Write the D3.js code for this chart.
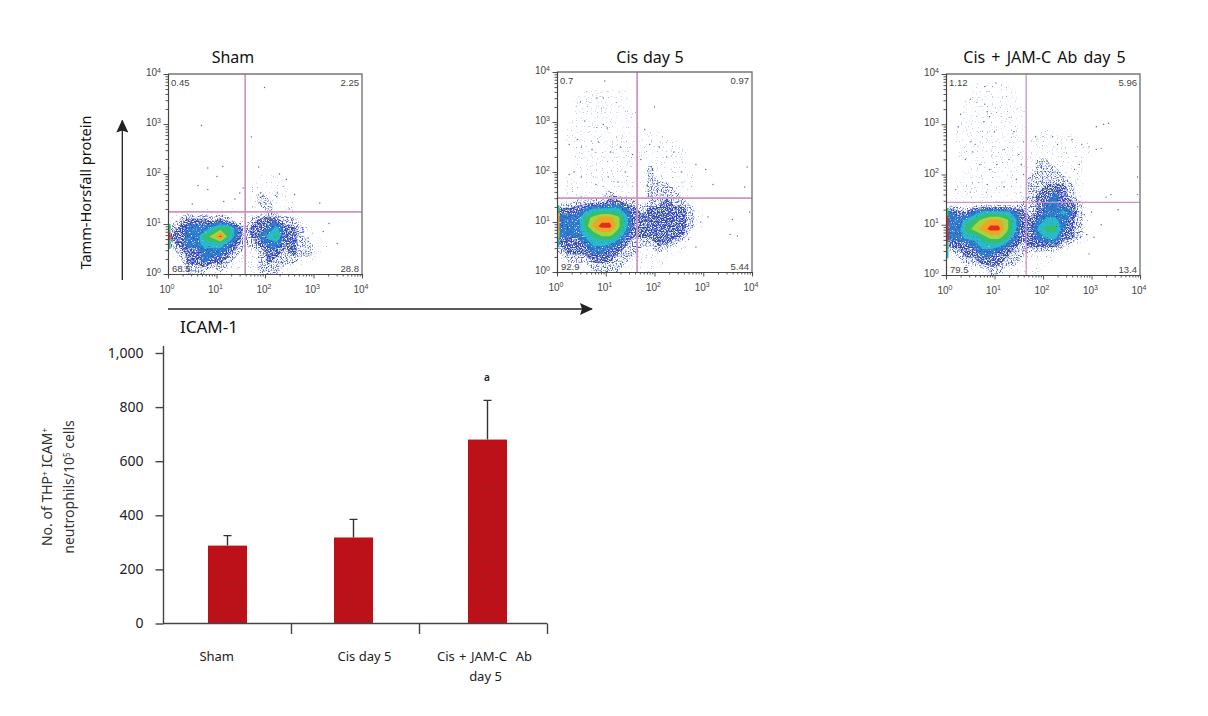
<!DOCTYPE html>
<html><head><meta charset="utf-8">
<style>html,body{margin:0;background:#fff}svg{display:block}</style>
<script src="https://cdn.jsdelivr.net/npm/d3@7"></script></head>
<body><svg id="c" width="1208" height="716"></svg>
<script>
// ---- Data ----
const barCategories = ["Sham", "Cis day 5", "Cis + JAM-C  Ab"];
const barValues = [288, 318, 680];
const barErrorTops = [325, 385, 825];
const barTicks = [0, 200, 400, 600, 800, 1000];

const panelTitles = ["Sham", "Cis day 5", "Cis + JAM-C Ab day 5"];
const gateX = [39, 44, 45];
const gateY = [17.4, 30, 28];
const quadrantLabels = [
  ["0.45", "2.25", "68.5", "28.8"],
  ["0.7", "0.97", "92.9", "5.44"],
  ["1.12", "5.96", "79.5", "13.4"]
];
// density level (0-9) on a 24x24 grid of 1/6-decade cells, top row first
const densitySham = [
"000000000000000000000000","000000000000000000000000","000000000000000000000000","000000000000000000000000",
"000000000000000000000000","000000000000000000000000","000000000000000000000000","000000000000000000000000",
"000000000000000000000000","000000000000000000000000","000000000000000000000000","000000000000000000000000",
"000000000001110000000000","000000000011111000000000","000000000012121000000000","000000000012211100000000",
"011011111011211100000000","123332321123332210000000","234445664233453321000000","334467964234563321100000",
"234455543223443322110000","123344432112332322100000","013343321112322211000000","012221211012221100000000"];
const densityCis = [
"000000000000000000000000","000000000000000000000000","000111111000000000000000","001111111000000000000000",
"001111111100000000000000","001111111100000000000000","011111111100000000000000","011111111111100000000000",
"011111111111111000000000","001111111111111100000000","001111111111111100000000","001111111112111100000000",
"011111111112111110000000","011111111112221110000000","011111211112222100000000","112222332212232210000000",
"333455554323333321000000","444678875333333321000000","444689975333333321000000","444567764333333310000000",
"333455543222332100000000","233344332211211100000000","122233322111110000000000","011122221111100000000000"];
const densityJam = [
"000000000000000000000000","000111110000000000000000","000111111000000000000000","001111111000000000000000",
"001111111100000000000000","001111111100000000000000","011111111100100000000000","011111111111111100000000",
"011111111111111111000000","011111111111111111000000","001111111112211110000000","001111111112221110000000",
"011111111122222110000000","011111111122333210000000","011111111123343210000000","110111111223443321000000",
"433455554323445421000000","445678875334554321000000","446789975335664321000000","445567764334553321000000",
"333455543233332100000000","123344332211110000000000","012233322101100000000000","001112211111000000000000"];
const densityGrids = [densitySham, densityCis, densityJam];
// density of events piled on the left axis, same rows
const edgeSham = [0,0,0,0,0,0,0,0,0,0,0,0,0,0,0,0,0,0,6,9,6,0,0,0];
const edgeCis  = [0,0,0,0,0,0,0,0,0,0,0,0,0,0,0,0,6,8,8,7,5,0,0,0];
const edgeJam  = [0,0,0,0,0,0,0,0,0,0,0,0,0,0,0,0,6,9,9,9,6,5,0,0];
const edgeSets = [edgeSham, edgeCis, edgeJam];
// isolated events, [log10 x, log10 y]
const eventsSham = [[1.99,3.73],[.69,2.97],[1.72,2.74],[.82,2.12],[1.13,2.15],[1.01,1.95],[.62,1.77],[.82,1.69],[1.48,1.62],[2.3,2],[1.87,2.14],[2.44,1.89],[2.61,1.59],[3.13,1.42],[3.32,1.01],[3.49,.61],[3.2,.85],[2.89,.72],[2.78,.89],[.02,2.12],[1.55,1.72],[1.38,1.5],[.5,1.4],[1.15,1.45],[2.5,1.3]];
const eventsCis = [[.98,3.82],[.82,3.48],[.95,3.48],[.48,3.4],[.57,3.02],[.95,2.95],[1.03,2.88],[.85,2.6],[.42,2.65],[.25,2.55],[.5,2.5],[.72,2.45],[1.1,2.4],[1.3,2.5],[1.55,2.35],[1.65,2.3],[2,3.3],[1.8,2.85],[1.9,2.55],[2.1,2.5],[2.4,2.4],[2.25,2.3],[1.72,2.25],[.35,2],[.5,1.9],[.8,1.75],[1.05,1.9],[1.25,1.8],[1.4,2],[.25,1.95],[2.55,2],[2.85,2.15],[3.05,2.05],[3.2,1.75],[3.9,2.1],[3.85,1.7],[3.1,1.1],[2.95,1],[2.72,1.05],[3.6,1.05],[3.7,.72],[3.55,.75],[2.7,.65],[2.85,.5],[3.95,1.2]];
const eventsJam = [[1.03,3.82],[.8,3.75],[.5,3.5],[.8,3.4],[.85,3.25],[.9,3.15],[.78,3.05],[.3,3.2],[.25,2.95],[.5,2.65],[.6,2.6],[1,2.85],[1.4,2.85],[1.6,2.65],[1.85,2.75],[2.2,2.75],[2.3,2.6],[2.6,2.7],[2.8,2.6],[2.95,2.55],[3.1,2.5],[3.2,2.52],[3.1,2.95],[3.25,3],[3.35,3.02],[1.2,2.5],[1.3,2.3],[1.05,2.2],[.9,2.1],[.7,2.2],[.4,2.3],[.55,2.45],[1.5,2.4],[1.55,2.2],[1.6,2],[1.45,1.9],[.2,1.7],[.5,1.65],[.85,1.8],[1.2,1.75],[2.65,2.1],[2.75,2.2],[3.95,2.55],[3.95,1.95],[3.95,1.6],[3.4,1.6],[3.3,1.55],[3,1.25],[2.85,1.2],[2.75,1],[2.9,.8],[3.05,.75],[2.95,.42],[3.2,1],[3.55,1.3]];
const eventSets = [eventsSham, eventsCis, eventsJam];

// ---- Layout ----
const plotBoxes = [
  {l:168, r:362, t:74, b:274},
  {l:557, r:752, t:72, b:272},
  {l:946, r:1140, t:74, b:275}
];
const titleCx = [233, 650, 1044.5];
const levelColors = ["#7f92e0","#4a62c8","#2f46b0","#2a7ccc","#27bcc8","#35bf6c","#a8d23e","#f0a424","#e42c20"];
const stippleOffsets = [-3.85,-2.95,-2.4,-1.9,-1.4,-0.9];
const gateColor = "#cf93bf";
const sansFont = "'Noto Sans', sans-serif";
const smallFont = "'Liberation Sans', Arial, sans-serif";

const svg = d3.select("#c");
const defs = svg.append("defs");
stippleOffsets.forEach((off,k) => {
  const sp = defs.append("filter").attr("id","stipple"+k).attr("x",0).attr("y",0).attr("width","100%").attr("height","100%")
    .attr("color-interpolation-filters","sRGB");
  sp.append("feTurbulence").attr("type","fractalNoise").attr("baseFrequency",0.8).attr("numOctaves",1).attr("seed",3+k).attr("result","n");
  sp.append("feColorMatrix").attr("in","n").attr("type","matrix")
    .attr("values",`0 0 0 0 0  0 0 0 0 0  0 0 0 0 0  6 0 0 0 ${off}`).attr("result","m");
  sp.append("feComposite").attr("in","SourceGraphic").attr("in2","m").attr("operator","in");
});
const soft = defs.append("filter").attr("id","soft").attr("color-interpolation-filters","sRGB");
soft.append("feGaussianBlur").attr("stdDeviation",0.4);
defs.append("marker").attr("id","arrow").attr("viewBox","0 0 13 12").attr("refX",12).attr("refY",6)
  .attr("markerWidth",13).attr("markerHeight",12).attr("markerUnits","userSpaceOnUse").attr("orient","auto")
  .append("path").attr("d","M0,0L13,6L0,12L2,6Z").attr("fill","#222");
const pat = defs.append("pattern").attr("id","dots").attr("width",13).attr("height",12)
  .attr("patternUnits","userSpaceOnUse").attr("patternTransform","rotate(-18)");
pat.append("circle").attr("cx",2).attr("cy",2).attr("r",.6).attr("fill","#4a3010");
pat.append("circle").attr("cx",7).attr("cy",2).attr("r",.6).attr("fill","#4a3010");

const decades = [1,10,100,1000,10000];
const minorTicks = d3.range(0,4).flatMap(d => d3.range(1,10).map(m => m*Math.pow(10,d))).concat([10000]);

plotBoxes.forEach((box,i) => {
  const x = d3.scaleLog().domain([1,1e4]).range([box.l,box.r]);
  const y = d3.scaleLog().domain([1,1e4]).range([box.b,box.t]);
  const g = svg.append("g");
  const clipId = "clip"+i;
  defs.append("clipPath").attr("id",clipId).append("rect")
    .attr("x",box.l).attr("y",box.t).attr("width",box.r-box.l).attr("height",box.b-box.t);

  const values = densityGrids[i].flatMap(r => Array.from(r, Number));
  const contours = d3.contours().size([24,24]).smooth(true).thresholds(d3.range(0.6,9.6,1))(values);
  const proj = d3.geoTransform({point(px,py){
    this.stream.point(x(Math.pow(10,px/6)), y(Math.pow(10,(24-py)/6)));
  }});
  const path = d3.geoPath(proj);
  const density = g.append("g").attr("clip-path",`url(#${clipId})`).append("g").attr("filter","url(#soft)");
  contours.forEach((c,k) => {
    const p = density.append("path").datum(c).attr("d",path).attr("fill",levelColors[k]);
    if (k < stippleOffsets.length) p.attr("filter",`url(#stipple${k})`);
  });
  density.append("g").selectAll("rect").data(edgeSets[i]).join("rect")
    .attr("x",box.l).attr("width",2.5)
    .attr("y",(d,r)=>y(Math.pow(10,(24-r)/6))).attr("height",(d,r)=>y(Math.pow(10,(23-r)/6))-y(Math.pow(10,(24-r)/6)))
    .attr("fill",d=>d?levelColors[d-1]:"none");
  density.append("g").selectAll("circle").data(eventSets[i]).join("circle")
    .attr("cx",d=>x(Math.pow(10,d[0]))).attr("cy",d=>y(Math.pow(10,d[1]))).attr("r",.7).attr("fill","#4f62c0");

  // gates
  const gw = i===2 ? 1.3 : 1.7;
  g.append("line").attr("x1",x(gateX[i])).attr("x2",x(gateX[i])).attr("y1",box.t).attr("y2",box.b)
    .attr("stroke",gateColor).attr("stroke-width",gw);
  g.append("line").attr("x1",box.l).attr("x2",box.r).attr("y1",y(gateY[i])).attr("y2",y(gateY[i]))
    .attr("stroke",gateColor).attr("stroke-width",gw);

  // frame and log axes
  g.append("path").attr("d",`M${box.l},${box.t}H${box.r}V${box.b}`).attr("fill","none").attr("stroke","#777").attr("stroke-width",1.4);
  const ax = d3.axisBottom(x).tickValues(minorTicks).tickFormat("").tickSize(2.5);
  const ay = d3.axisLeft(y).tickValues(minorTicks).tickFormat("").tickSize(2.5);
  [[ax,`translate(0,${box.b})`],[ay,`translate(${box.l},0)`]].forEach(([a,t],n) => {
    const s = g.append("g").attr("transform",t).call(a);
    s.selectAll("path").attr("stroke","#444").attr("stroke-width",1.2);
    s.selectAll("line").attr("stroke","#444").attr("stroke-width",.9);
    s.selectAll(".tick").filter(d=>decades.includes(d)).select("line")
      .attr(n===0?"y2":"x2", n===0?4.5:-4.5);
  });
  const powLabel = (sel) => {
    sel.append("tspan").text("10");
    sel.append("tspan").attr("dy",-3.5).attr("font-size",7).text(d=>Math.round(Math.log10(d)));
  };
  g.append("g").selectAll("text").data(decades).join("text")
    .attr("x",d=>x(d)-1).attr("y",box.b+18.5).attr("text-anchor","middle")
    .attr("font-family",smallFont).attr("font-size",10).attr("fill","#444").call(powLabel);
  g.append("g").selectAll("text").data(decades).join("text")
    .attr("x",box.l-7).attr("y",d=>y(d)+2).attr("text-anchor","end")
    .attr("font-family",smallFont).attr("font-size",10).attr("fill","#444").call(powLabel);

  const q = quadrantLabels[i];
  const qPos = [[box.l+3,box.t+11.5,"start"],[box.r-3,box.t+11.5,"end"],[box.l+4,box.b-2.5,"start"],[box.r-3,box.b-2.5,"end"]];
  g.append("g").selectAll("text").data(q).join("text")
    .attr("x",(d,k)=>qPos[k][0]).attr("y",(d,k)=>qPos[k][1]).attr("text-anchor",(d,k)=>qPos[k][2])
    .attr("font-family",smallFont).attr("font-size",9.5).attr("fill","#444").text(d=>d);

  svg.append("text").attr("x",titleCx[i]).attr("y",63).attr("text-anchor","middle")
    .attr("font-family",sansFont).attr("font-size",16).attr("word-spacing",i===2?2:0.5).attr("fill","#111").text(panelTitles[i]);
});

// arrows and flow axis names
svg.append("line").attr("x1",122.3).attr("y1",280).attr("x2",122.3).attr("y2",120.5).attr("stroke","#222").attr("stroke-width",1.3).attr("marker-end","url(#arrow)");
svg.append("line").attr("x1",168).attr("y1",309).attr("x2",592).attr("y2",309).attr("stroke","#222").attr("stroke-width",1.3).attr("marker-end","url(#arrow)");
svg.append("text").attr("transform","translate(90.5,192.5) rotate(-90)").attr("text-anchor","middle")
  .attr("font-family",sansFont).attr("font-size",14.6).attr("fill","#111").text("Tamm-Horsfall protein");
svg.append("text").attr("x",180).attr("y",333).attr("font-family",sansFont).attr("font-size",17).attr("fill","#111").text("ICAM-1");

// ---- Bar chart ----
const by = d3.scaleLinear().domain([0,1000]).range([623.5,353]);
const bx = d3.scaleOrdinal(barCategories,[227.5,353.5,487.5]);
const bw = 39;
const axisX = 163.5, axisEnd = 547;
const bars = svg.append("g");
bars.selectAll("rect.bar").data(barValues).join("rect").attr("class","bar")
  .attr("x",(d,i)=>bx(barCategories[i])-bw/2).attr("width",bw)
  .attr("y",d=>by(d)).attr("height",d=>by(0)-by(d)).attr("fill","#bd111a");
bars.selectAll("rect.st").data(barValues).join("rect").attr("class","st")
  .attr("x",(d,i)=>bx(barCategories[i])-bw/2+6).attr("width",bw-12)
  .attr("y",d=>by(d*0.88-50)).attr("height",d=>by(0)-by(d*0.88-50)).attr("fill","url(#dots)");
bars.selectAll("path.err").data(barErrorTops).join("path").attr("class","err")
  .attr("d",(d,i)=>{const c=bx(barCategories[i]);return `M${c},${by(barValues[i])}V${by(d)}M${c-4},${by(d)}H${c+4}`;})
  .attr("fill","none").attr("stroke","#333").attr("stroke-width",1.4);

const yAxis = svg.append("g").attr("transform",`translate(${axisX},0)`)
  .call(d3.axisLeft(by).tickValues(barTicks).tickSize(8).tickFormat(d3.format(",")));
yAxis.select(".domain").attr("d",`M0,346V624`);
yAxis.selectAll(".domain,line").attr("stroke","#444").attr("stroke-width",1.4);
yAxis.selectAll("text").attr("font-family",sansFont).attr("font-size",14).attr("fill","#222").attr("x",-20);
const tickEdges = [291,419,547];
const xa = d3.scaleIdentity().domain([axisX,axisEnd]);
const xAxis = svg.append("g").attr("transform","translate(0,623.5)").call(d3.axisBottom(xa).tickValues(tickEdges).tickSize(10.5).tickFormat(""));
xAxis.select(".domain").attr("d",`M${axisX},0H${axisEnd}`);
xAxis.selectAll(".domain,line").attr("stroke","#444").attr("stroke-width",1.4);

const labelCx = [216.7,364.5,484.5];
svg.append("g").selectAll("text").data(barCategories).join("text")
  .attr("x",(d,i)=>labelCx[i]).attr("y",660.5).attr("text-anchor","middle")
  .attr("font-family",sansFont).attr("font-size",13).attr("word-spacing",(d,i)=>i===2?1:0).attr("fill","#222").style("white-space","pre").text(d=>d);
svg.append("text").attr("x",485.5).attr("y",680.5).attr("text-anchor","middle")
  .attr("font-family",sansFont).attr("font-size",13).attr("fill","#222").text("day 5");
svg.append("text").attr("x",487).attr("y",381).attr("text-anchor","middle")
  .attr("font-family",sansFont).attr("font-size",10).attr("font-weight",600).attr("fill","#222").text("a");

const t1 = svg.append("text").attr("transform","translate(52,487) rotate(-90)").attr("text-anchor","middle")
  .attr("font-family",sansFont).attr("font-size",14).attr("fill","#333");
t1.append("tspan").text("No. of THP");
t1.append("tspan").attr("dy",-4).attr("font-size",8).text("+");
t1.append("tspan").attr("dy",4).text(" ICAM");
t1.append("tspan").attr("dy",-4).attr("font-size",8).text("+");
const t2 = svg.append("text").attr("transform","translate(74,487) rotate(-90)").attr("text-anchor","middle")
  .attr("font-family",sansFont).attr("font-size",14).attr("fill","#333");
t2.append("tspan").text("neutrophils/10");
t2.append("tspan").attr("dy",-4).attr("font-size",8).text("5");
t2.append("tspan").attr("dy",4).text(" cells");
</script></body></html>
